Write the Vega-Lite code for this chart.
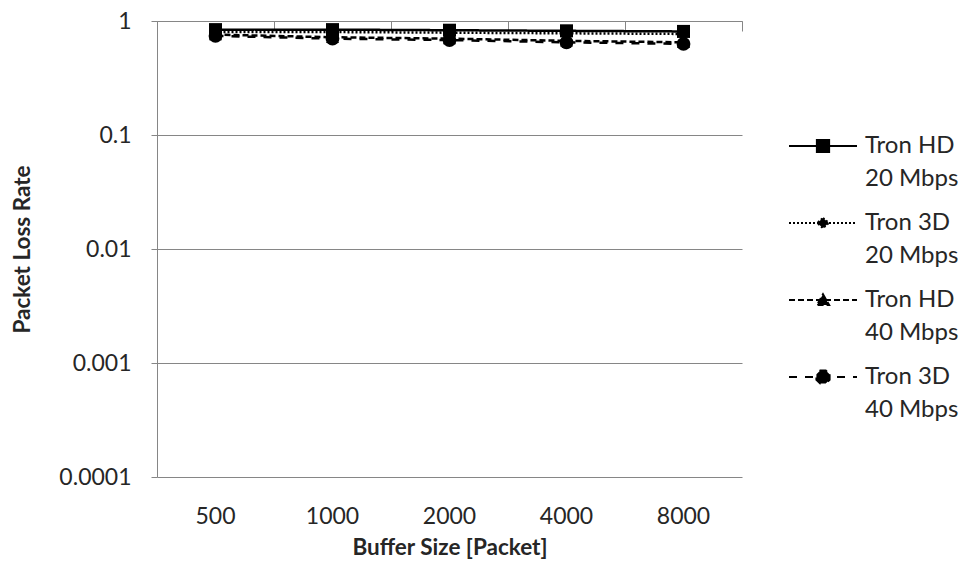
{
  "$schema": "https://vega.github.io/schema/vega-lite/v6.json",
  "autosize": {"type": "none"},
  "width": 585,
  "height": 456,
  "padding": {"left": 157, "top": 21, "right": 220, "bottom": 85},
  "background": "white",
  "config": {
    "view": {"stroke": null},
    "font": "Lato",
    "axis": {"labelFont": "Lato", "titleFont": "Lato", "labelColor": "#262626", "titleColor": "#262626"}
  },
  "data": {
    "values": [
      {"series": "Tron HD 20 Mbps", "buffer": "500", "loss": 0.84},
      {"series": "Tron HD 20 Mbps", "buffer": "1000", "loss": 0.84},
      {"series": "Tron HD 20 Mbps", "buffer": "2000", "loss": 0.83},
      {"series": "Tron HD 20 Mbps", "buffer": "4000", "loss": 0.82},
      {"series": "Tron HD 20 Mbps", "buffer": "8000", "loss": 0.81},
      {"series": "Tron 3D 20 Mbps", "buffer": "500", "loss": 0.80},
      {"series": "Tron 3D 20 Mbps", "buffer": "1000", "loss": 0.80},
      {"series": "Tron 3D 20 Mbps", "buffer": "2000", "loss": 0.79},
      {"series": "Tron 3D 20 Mbps", "buffer": "4000", "loss": 0.78},
      {"series": "Tron 3D 20 Mbps", "buffer": "8000", "loss": 0.77},
      {"series": "Tron HD 40 Mbps", "buffer": "500", "loss": 0.76},
      {"series": "Tron HD 40 Mbps", "buffer": "1000", "loss": 0.72},
      {"series": "Tron HD 40 Mbps", "buffer": "2000", "loss": 0.70},
      {"series": "Tron HD 40 Mbps", "buffer": "4000", "loss": 0.67},
      {"series": "Tron HD 40 Mbps", "buffer": "8000", "loss": 0.65},
      {"series": "Tron 3D 40 Mbps", "buffer": "500", "loss": 0.74},
      {"series": "Tron 3D 40 Mbps", "buffer": "1000", "loss": 0.70},
      {"series": "Tron 3D 40 Mbps", "buffer": "2000", "loss": 0.68},
      {"series": "Tron 3D 40 Mbps", "buffer": "4000", "loss": 0.65},
      {"series": "Tron 3D 40 Mbps", "buffer": "8000", "loss": 0.63}
    ]
  },
  "encoding": {
    "x": {
      "field": "buffer",
      "type": "ordinal",
      "sort": ["500", "1000", "2000", "4000", "8000"],
      "scale": {"type": "band", "paddingInner": 0, "paddingOuter": 0},
      "axis": null
    },
    "y": {
      "field": "loss",
      "type": "quantitative",
      "scale": {"type": "log", "domain": [0.0001, 1], "nice": false},
      "axis": {
        "orient": "left",
        "values": [1, 0.1, 0.01, 0.001, 0.0001],
        "format": ".4~f",
        "grid": true,
        "gridColor": "#868686",
        "domainColor": "#868686",
        "tickColor": "#868686",
        "tickSize": 6,
        "labelFontSize": 23,
        "labelPadding": 20,
        "title": "Packet Loss Rate",
        "titleFontSize": 22.5,
        "titleFontWeight": "bold",
        "titlePadding": 24
      }
    }
  },
  "layer": [
    {
      "mark": {"type": "line", "color": "black", "strokeWidth": 2.5},
      "encoding": {
        "x": {
          "field": "buffer",
          "type": "ordinal",
          "sort": ["500", "1000", "2000", "4000", "8000"],
          "scale": {"type": "band", "paddingInner": 0, "paddingOuter": 0},
          "axis": {
            "orient": "bottom",
            "domain": false,
            "ticks": false,
            "labelAngle": 0,
            "labelFontSize": 23,
            "labelPadding": 28,
            "title": "Buffer Size [Packet]",
            "titleFontSize": 22.5,
            "titleFontWeight": "bold",
            "titlePadding": 8
          }
        },
        "strokeDash": {
          "field": "series",
          "type": "nominal",
          "scale": {
            "domain": ["Tron HD 20 Mbps", "Tron 3D 20 Mbps", "Tron HD 40 Mbps", "Tron 3D 40 Mbps"],
            "range": [[1, 0], [2, 2], [6, 3], [8, 8]]
          },
          "legend": {
            "orient": "none",
            "legendX": 648,
            "legendY": 107,
            "title": null,
            "padding": 0,
            "labelExpr": "[slice(datum.label, 0, 7), slice(datum.label, 8)]",
            "labelFont": "Lato",
            "labelFontSize": 24,
            "labelColor": "#262626",
            "labelOffset": 24,
            "symbolSize": 1156,
            "symbolStrokeWidth": 2,
            "symbolStrokeColor": "black",
            "symbolFillColor": "black",
            "rowPadding": 14,
            "encode": {
              "symbols": {
                "update": {
                  "fill": {"value": "black"},
                  "stroke": {"value": "black"},
                  "shape": {"signal": "datum.value === 'Tron HD 20 Mbps' ? 'M-2,0H2M-0.36,-0.36H0.36V0.36H-0.36Z' : datum.value === 'Tron 3D 20 Mbps' ? 'M-2,0H2M0,-0.3L0.34,0L0,0.3L-0.34,0Z' : datum.value === 'Tron HD 40 Mbps' ? 'M-2,0H2M0,-0.34L0.36,0.3H-0.36Z' : 'M-2,0H2M0.388,-0.16L0.388,0.16L0.16,0.388L-0.16,0.388L-0.388,0.16L-0.388,-0.16L-0.16,-0.388L0.16,-0.388Z'"}
                }
              },
              "labels": {"update": {"lineHeight": {"value": 33}}}
            }
          }
        }
      }
    },
    {
      "transform": [{"filter": "datum.series === 'Tron HD 20 Mbps'"}],
      "mark": {"type": "point", "filled": true, "color": "black", "size": 170, "opacity": 1, "shape": "square"},
      "encoding": {
        "x": {
          "field": "buffer",
          "type": "ordinal",
          "sort": ["500", "1000", "2000", "4000", "8000"],
          "scale": {"type": "band", "paddingInner": 0, "paddingOuter": 0},
          "axis": {
            "orient": "top",
            "labels": false,
            "title": null,
            "domainColor": "#868686",
            "tickColor": "#868686",
            "tickBand": "extent",
            "tickSize": -10
          }
        }
      }
    },
    {
      "transform": [{"filter": "datum.series === 'Tron 3D 20 Mbps'"}],
      "mark": {"type": "point", "filled": true, "color": "black", "size": 170, "opacity": 1, "shape": "diamond"},
      "encoding": {}
    },
    {
      "transform": [{"filter": "datum.series === 'Tron HD 40 Mbps'"}],
      "mark": {"type": "point", "filled": true, "color": "black", "size": 170, "opacity": 1, "shape": "triangle-up"},
      "encoding": {}
    },
    {
      "transform": [{"filter": "datum.series === 'Tron 3D 40 Mbps'"}],
      "mark": {"type": "point", "filled": true, "color": "black", "size": 190, "opacity": 1, "shape": "circle"},
      "encoding": {}
    }
  ]
}
